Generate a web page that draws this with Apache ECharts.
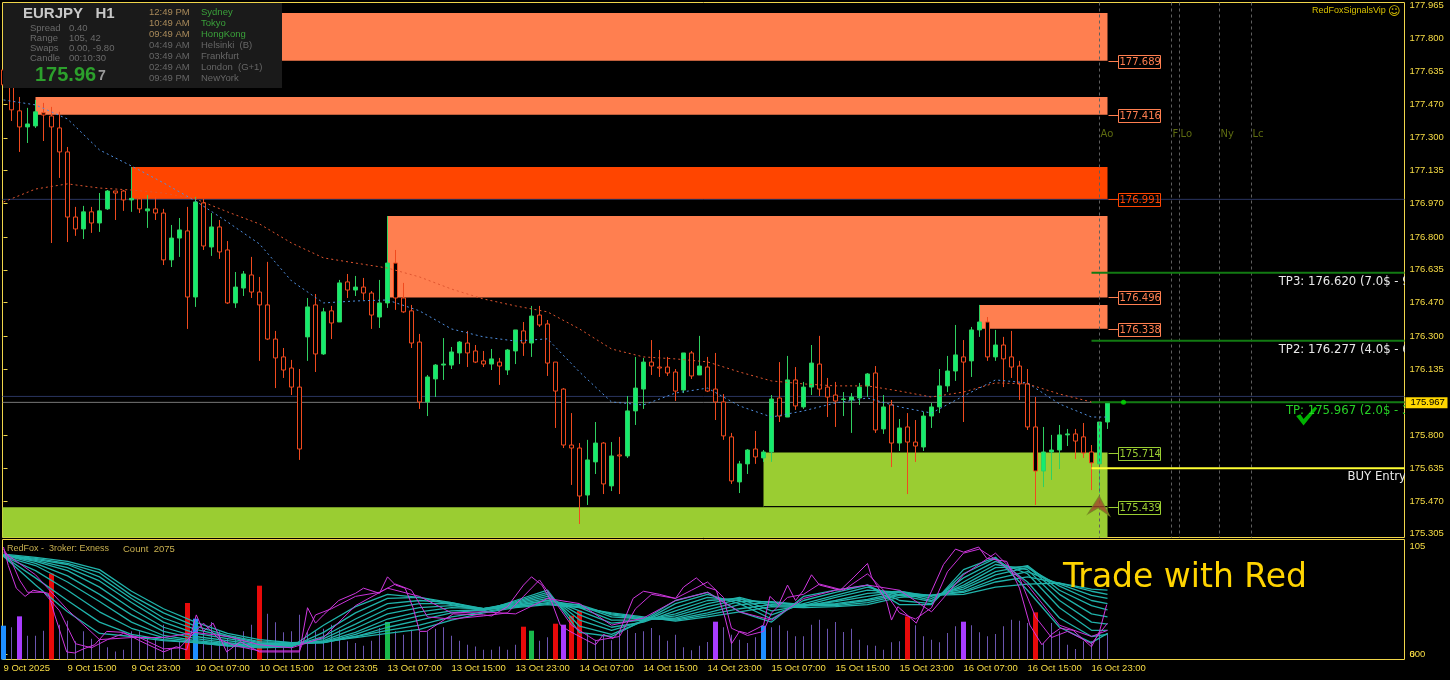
<!DOCTYPE html>
<html><head><meta charset="utf-8">
<style>html,body{margin:0;padding:0;background:#000}#c{width:1450px;height:680px}</style>
<script src="https://cdn.jsdelivr.net/npm/echarts@6/dist/echarts.min.js"></script>
</head><body><div id="c"></div>
<script>
const opens=[177.642,177.567,177.436,177.355,177.360,177.426,177.410,177.350,177.229,176.901,176.841,176.927,176.871,176.942,177.032,177.032,176.987,176.992,176.932,176.942,176.921,176.685,176.795,176.831,176.498,176.972,176.750,176.851,176.735,176.468,176.543,176.609,176.523,176.458,176.286,176.196,176.140,176.044,176.297,176.458,176.211,176.428,176.372,176.574,176.533,176.548,176.518,176.397,176.468,176.669,176.493,176.428,176.271,175.969,176.085,176.155,176.155,176.216,176.266,176.226,176.176,176.160,176.170,176.130,176.226,176.327,176.266,176.407,176.362,176.170,176.034,175.752,175.737,175.500,175.667,175.762,175.546,175.702,175.697,175.924,176.034,176.170,176.145,176.145,176.120,176.029,176.216,176.105,176.145,176.034,175.969,175.793,175.566,175.657,175.732,175.687,175.717,175.989,175.893,176.080,175.944,176.044,176.160,176.044,176.004,175.982,175.979,175.989,176.050,176.115,175.833,175.954,175.762,175.843,175.767,175.742,175.898,175.944,176.050,176.125,176.196,176.176,176.332,176.372,176.196,176.256,176.196,176.150,176.060,175.843,175.621,175.717,175.727,175.803,175.808,175.793,175.717,175.657,175.868];
const closes=[177.567,177.441,177.355,177.370,177.431,177.415,177.355,177.229,176.901,176.841,176.927,176.871,176.932,177.032,177.022,176.987,176.995,176.942,176.942,176.921,176.685,176.795,176.836,176.498,176.977,176.755,176.851,176.725,176.468,176.548,176.614,176.523,176.458,176.286,176.191,176.130,176.044,175.732,176.448,176.211,176.423,176.367,176.569,176.533,176.548,176.518,176.407,176.468,176.669,176.493,176.423,176.266,175.969,176.095,176.155,176.160,176.221,176.271,176.216,176.170,176.160,176.186,176.150,176.231,176.332,176.266,176.402,176.357,176.165,176.024,175.752,175.737,175.495,175.677,175.762,175.556,175.697,175.697,175.924,176.039,176.170,176.150,176.140,176.115,176.024,176.216,176.100,176.150,176.024,175.969,175.798,175.571,175.657,175.727,175.692,175.717,175.984,175.898,176.080,175.949,176.044,176.165,176.034,175.994,175.974,175.984,175.994,176.044,176.110,175.828,175.944,175.762,175.838,175.767,175.747,175.898,175.944,176.050,176.125,176.206,176.170,176.332,176.372,176.196,176.256,176.186,176.145,176.060,175.843,175.621,175.717,175.727,175.803,175.808,175.772,175.712,175.662,175.868,175.967];
const lows=[177.551,177.385,177.229,177.274,177.350,177.284,176.770,177.098,176.775,176.806,176.790,176.821,176.826,176.937,176.886,176.932,176.927,176.921,176.846,176.886,176.659,176.649,176.700,176.337,176.448,176.735,176.705,176.690,176.463,176.443,176.503,176.493,176.176,176.281,176.039,176.090,176.004,175.677,176.176,176.120,176.206,176.286,176.372,176.493,176.503,176.483,176.337,176.342,176.443,176.433,176.418,176.241,175.934,175.898,175.994,176.080,176.135,176.160,176.145,176.165,176.145,176.130,176.055,176.105,176.160,176.201,176.196,176.347,176.100,175.838,175.737,175.551,175.354,175.450,175.606,175.505,175.520,175.505,175.687,175.853,175.934,176.105,176.095,176.100,175.974,176.014,176.085,176.105,176.019,175.878,175.778,175.556,175.510,175.606,175.657,175.667,175.667,175.868,175.893,175.929,175.934,176.004,175.999,175.893,175.843,175.898,175.813,175.954,175.994,175.813,175.808,175.641,175.722,175.505,175.667,175.722,175.838,175.913,176.019,176.075,175.868,176.095,176.297,176.176,176.176,176.044,176.090,175.979,175.828,175.450,175.540,175.576,175.631,175.747,175.682,175.687,175.525,175.510,175.833];
const highs=[177.693,177.592,177.506,177.451,177.491,177.476,177.456,177.431,177.254,176.952,176.957,176.952,177.022,177.037,177.032,177.037,177.153,176.997,177.012,177.002,176.942,176.861,176.896,176.952,177.002,176.992,176.921,176.886,176.780,176.624,176.629,176.700,176.599,176.675,176.327,176.241,176.181,176.135,176.493,176.513,176.443,176.453,176.584,176.614,176.604,176.594,176.528,176.584,176.906,176.735,176.569,176.458,176.312,176.105,176.160,176.291,176.246,176.276,176.327,176.256,176.226,176.236,176.191,176.236,176.332,176.372,176.453,176.453,176.382,176.170,176.039,175.913,175.762,175.778,175.868,175.767,175.767,175.793,175.999,176.196,176.191,176.281,176.231,176.196,176.135,176.216,176.226,176.302,176.196,176.216,176.009,175.813,175.672,175.732,175.823,175.727,176.004,176.170,176.201,176.145,176.070,176.256,176.302,176.090,176.070,176.019,176.014,176.065,176.115,176.150,176.004,175.979,175.883,175.913,175.878,175.919,175.964,176.135,176.201,176.357,176.281,176.347,176.458,176.397,176.332,176.297,176.327,176.176,176.135,175.994,175.843,175.803,175.853,175.833,175.833,175.863,175.752,175.868,175.967];
const volumes=[1166,1133,1353,966,966,1066,2207,1186,1266,853,1053,906,886,733,652,686,1053,1053,919,919,1186,719,853,1620,1306,1053,1240,1053,919,953,1053,1186,1966,1406,1233,1033,1053,1386,1053,1053,1106,1186,1086,853,819,766,866,1119,1240,1053,986,1086,1040,1053,1106,1133,966,866,786,752,686,686,752,686,786,1146,1066,866,933,1206,1186,1366,1466,1019,886,986,873,1019,1086,1019,1053,1119,973,866,986,733,673,766,839,1246,1133,986,886,819,933,1166,1133,1173,1066,953,953,1186,1286,1106,1240,1040,1106,886,773,766,686,833,853,1353,1173,953,886,833,1019,1153,1246,1173,1033,953,999,1153,1286,1266,1220,1433,819,1220,1053,786,699,853,853,1066,1019];
const blueBars=[0,24,95], purpleBars=[2,70,89,120], redBars=[6,23,32,65,69,71,72,113,129], greenBars=[48,66];

const maIdx=[0,4,8,12,16,20,24,28,32,36,40,44,48,52,56,60,64,68,72,76,80,84,88,92,96,100,104,108,112,116,120,124,128,132,136,138];
const maBlue=[177.491,177.466,177.395,177.239,177.158,177.073,176.982,176.876,176.765,176.579,176.468,176.478,176.483,176.428,176.337,176.297,176.276,176.287,176.120,175.969,175.954,176.014,176.039,175.949,175.893,175.924,175.964,175.989,175.944,175.913,175.999,176.080,176.065,175.959,175.893,175.893];
const maRed=[176.977,177.042,177.068,177.047,177.037,177.022,176.992,176.927,176.866,176.770,176.695,176.669,176.644,176.599,176.538,176.488,176.453,176.423,176.337,176.236,176.196,176.186,176.171,176.120,176.075,176.060,176.050,176.050,176.024,175.994,176.019,176.065,176.060,176.009,175.969];

const teal1=[95,67,41,20,17,13,11,8,6,7,28,46,58,55,48,42,52,62,21,17,33,52,60,41,31,56,62,67,48,48,82,94,62,26,11,20];
const teal2=[95,74,52,31,19,14,11,8,7,7,21,40,54,55,50,43,51,60,27,19,32,49,58,49,34,52,60,67,52,49,78,93,70,35,17,19];
const teal3=[95,81,62,41,25,16,12,9,7,8,17,34,49,52,50,44,50,58,33,23,32,45,55,52,38,49,57,65,57,51,74,90,78,45,23,23];
const teal4=[95,86,70,51,31,18,13,10,8,8,15,29,44,49,49,44,49,56,38,26,31,42,52,54,42,47,55,62,60,52,70,87,82,52,31,29];
const teal5=[96,88,76,58,38,22,15,11,8,9,13,25,39,45,47,44,48,54,42,30,33,39,49,55,47,46,52,59,61,54,67,84,85,58,39,36];
const teal6=[96,90,81,65,44,26,17,13,9,9,12,21,34,41,45,44,47,52,45,33,33,37,46,53,50,47,51,56,61,56,65,80,86,62,47,43];
const teal7=[96,91,84,71,50,31,20,15,10,10,11,19,30,37,42,43,47,52,47,36,34,35,43,51,51,48,49,53,60,57,63,77,84,66,52,49];
const teal8=[96,92,87,75,54,35,24,17,11,10,11,17,26,33,40,43,46,50,48,38,34,34,40,48,50,48,48,52,58,57,61,73,80,68,57,54];
const teal9=[96,93,88,79,57,40,27,18,12,11,11,17,23,28,36,41,46,49,46,39,35,33,38,44,48,47,47,50,57,57,60,70,75,69,61,58];
const teal10=[97,94,90,82,61,44,31,20,14,11,12,16,20,24,33,40,45,48,45,40,36,32,36,41,46,45,46,48,55,57,58,65,68,69,63,62];
const magenta3=[99,77,43,14,16,16,21,17,9,6,16,47,64,56,40,41,39,54,49,28,35,52,60,41,33,54,62,67,62,41,77,98,67,28,17,23];
const magentaFastIdx=[0,0.6,1.6,2.7,3.7,5.6,6.4,7.9,8.9,10,11.4,12.9,15,17,20,21.6,22.9,24.1,25,26.2,27.9,29.6,32,37,38,39,40,41.9,44,45,47,48,49,50.2,51.2,52,52.9,56.2,60,61,63,65,66,67.3,68.5,69.6,70.8,72.5,74,75,76.2,77,78.7,80,82,84,85,86.6,87.9,89.1,90.2,91,92,93,95,95.8,96.9,98,99,100,101,102,104.6,106.2,108,108.5,110.4,111,111.8,113.1,114.1,116,117.5,119,120,121.9,122.9,125.4,127,128.3,129.8,131,132.1,133.7,136,137,137.9];
const magentaFast=[104,86,64,56,62,59,38,2,1,5,9,22,21,13,2,7,4,38,22,30,2,12,2,2,45,30,38,52,59,64,59,75,67,64,45,22,22,39,38,37,46,67,75,67,51,28,22,15,9,19,15,22,54,61,58,54,65,74,65,62,35,10,22,20,28,56,48,67,52,62,77,67,62,74,88,75,51,33,46,37,30,61,87,102,99,104,93,90,64,28,9,19,25,23,7,22,48];
const magentaMidIdx=[0,1,2,3,5,7,9,11,13,15,17,20,22,24,25,27,29,32,37,38,39,41,44,47,49,51,53,56,60,63,65,67,69,71,74,77,79,81,84,86,88,90,91,93,95,96,98,100,102,105,108,110,112,114,116,118,120,122,124,127,129,131,133,136,138];
const magentaMid=[102,90,72,60,60,42,10,6,14,20,16,5,6,22,30,14,8,3,3,22,38,44,56,60,68,62,36,34,37,40,56,72,50,28,13,17,44,58,54,62,70,55,25,18,22,40,55,58,68,62,78,62,40,34,45,80,98,102,92,74,36,16,22,10,30];

const priceTicks=[177.965,177.8,177.635,177.47,177.3,177.135,176.97,176.8,176.635,176.47,176.3,176.135,175.8,175.635,175.47,175.305];
const timeTickIdx=[0,8,16,24,32,40,48,56,64,72,80,88,96,104,112,120,128,136];
const timeTickLabels=['9 Oct 2025','9 Oct 15:00','9 Oct 23:00','10 Oct 07:00','10 Oct 15:00','12 Oct 23:05','13 Oct 07:00','13 Oct 15:00','13 Oct 23:00','14 Oct 07:00','14 Oct 15:00','14 Oct 23:00','15 Oct 07:00','15 Oct 15:00','15 Oct 23:00','16 Oct 07:00','16 Oct 15:00','16 Oct 23:00'];

const XMIN=-0.125, XMAX=175.125, GOLD='#f0d54a', TXT='#f7dc45', CORAL='#ff7f50', ORED='#ff4500', YG='#9acd32';
const zoneStart=[10,4,16,48,122,95,XMIN];
const zoneTop=[177.929,177.506,177.153,176.906,176.458,175.714,175.439];
const zoneBottom=[177.689,177.416,176.991,176.496,176.338,175.439,175.2];
const zoneColor=[CORAL,CORAL,ORED,CORAL,CORAL,YG,YG];
const tagPrice=[177.689,177.416,176.991,176.496,176.338,175.714,175.439];
const tagColor=[CORAL,CORAL,ORED,CORAL,CORAL,YG,YG];
const sessionIdx=[137,146,147,152,156];
const sessionName=['Ao','F','Lo','Ny','Lc'];
const levelPrice=[176.99,175.997,175.967,175.442,176.62,176.277,175.967,175.635];
const levelFrom=[XMIN,XMIN,XMIN,95,136,136,136,136];
const levelTo=[XMAX,XMAX,XMAX,138,XMAX,XMAX,XMAX,XMAX];
const levelColor=['#2a3560','#2a3560','#777777','#000000','#127a12','#127a12','#127a12','#ffff33'];
const levelWidth=[1,1,1,1,2,2,2,2];
const noteIdx=[159.4,159.4,160.3,168];
const notePrice=[176.574,176.231,175.923,175.591];
const noteText=['TP3: 176.620 (7.0$ - 9','TP2: 176.277 (4.0$ - 6','TP: 175.967 (2.0$ - 3','BUY Entry'];
const noteColor=['#e8e8e8','#e8e8e8','#26d026','#e8e8e8'];

const F='"Liberation Sans",Arial,sans-serif', D='"DejaVu Sans",sans-serif';
const chart=echarts.init(document.getElementById('c'),null,{renderer:'canvas'});
const candles=opens.map((o,i)=>[i,o,closes[i],lows[i],highs[i]]);
const flagged={};
[[blueBars,'#1e8fff'],[purpleBars,'#a93cff'],[redBars,'#e80a0a'],[greenBars,'#18b94a']].forEach(([a,c])=>a.forEach(i=>flagged[i]=c));
const thin=[],thick=[];
volumes.forEach((v,i)=>{ if(flagged[i]) thick.push({value:[i,v],itemStyle:{color:flagged[i]}}); else thin.push([i,v]); });
const zip=a=>a.map((v,i)=>[maIdx[i],v]);
const oscLine=(d,c,w)=>({type:'line',xAxisIndex:1,yAxisIndex:1,data:d,showSymbol:false,silent:true,z:5,lineStyle:{color:c,width:w}});

const series=[
 {type:'custom',xAxisIndex:0,yAxisIndex:0,clip:true,z:1,silent:true,
  data:zoneStart.map((s,i)=>[s,138,zoneTop[i],zoneBottom[i]]),encode:{x:[0,1],y:[2,3]},
  renderItem:(p,api)=>{const a=api.coord([api.value(0),api.value(2)]),b=api.coord([api.value(1),api.value(3)]);
   return {type:'rect',shape:{x:a[0],y:a[1],width:b[0]-a[0],height:b[1]-a[1]},style:{fill:zoneColor[p.dataIndex]}};}},
 ...levelPrice.map((p,i)=>({type:'line',xAxisIndex:0,yAxisIndex:0,silent:true,showSymbol:false,z:i>=4?6:2,
   data:[[levelFrom[i],p],[levelTo[i],p]],lineStyle:{color:levelColor[i],width:levelWidth[i]}})),
 ...sessionIdx.map(x=>({type:'line',xAxisIndex:0,yAxisIndex:0,silent:true,showSymbol:false,z:4,
   data:[[x,177.982],[x,175.286]],lineStyle:{color:'#5e5e5e',width:1,type:[3,3]}})),
 {type:'candlestick',name:'EURJPY',xAxisIndex:0,yAxisIndex:0,data:candles,encode:{x:0,y:[1,2,3,4]},barWidth:4,z:3,silent:true,
  itemStyle:{color:'#14ec6e',color0:'#000000',borderColor:'#2fd060',borderColor0:'#f04a1e',borderColorDoji:'#2fd060',borderWidth:1}},
 {type:'line',xAxisIndex:0,yAxisIndex:0,data:maIdx.map((x,i)=>[x,maBlue[i]]),showSymbol:false,silent:true,z:4,lineStyle:{color:'#4f8fe0',width:1,type:[2,3]}},
 {type:'line',xAxisIndex:0,yAxisIndex:0,data:maRed.map((v,i)=>[maIdx[i],v]),showSymbol:false,silent:true,z:4,lineStyle:{color:'#e0552f',width:1,type:[2,3]}},
 {type:'scatter',xAxisIndex:0,yAxisIndex:0,data:[[140,175.967]],symbolSize:5,silent:true,z:7,itemStyle:{color:'#00e000'}},
 {type:'scatter',xAxisIndex:0,yAxisIndex:0,data:[[136.9,175.445]],symbol:'path://M11 0L0 18L10 12L21 20L11 0Z',symbolSize:[22,20],silent:true,z:7,itemStyle:{color:'#a0462d',borderColor:'#6f8a20',borderWidth:1}},
 {type:'scatter',xAxisIndex:0,yAxisIndex:0,data:[[162.9,175.898]],symbol:'path://M0 10L4 8L7 13L18 0L20 2L7 20Z',symbolSize:[21,19],silent:true,z:7,itemStyle:{color:'#00e000'}},
 {type:'custom',xAxisIndex:0,yAxisIndex:0,clip:true,z:8,silent:true,data:notePrice.map((p,i)=>[noteIdx[i],p]),encode:{x:0,y:1},
  renderItem:(p,api)=>{const c=api.coord([api.value(0),api.value(1)]);
   return {type:'text',x:c[0],y:c[1],style:{text:noteText[p.dataIndex],fill:noteColor[p.dataIndex],font:'11.7px '+D,textAlign:'left',textVerticalAlign:'middle'}};}},
 {type:'custom',xAxisIndex:0,yAxisIndex:0,z:8,silent:true,data:sessionIdx.map(x=>[x,177.315]),encode:{x:0,y:1},
  renderItem:(p,api)=>{const c=api.coord([api.value(0),api.value(1)]);
   return {type:'text',x:c[0]+1,y:c[1],style:{text:sessionName[p.dataIndex],fill:'#5d6b10',font:'10px '+D,textAlign:'left',textVerticalAlign:'middle'}};}},
 {type:'custom',xAxisIndex:0,yAxisIndex:0,z:8,silent:true,data:tagPrice.map(p=>[138,p]),encode:{x:0,y:1},
  renderItem:(p,api)=>{const c=api.coord([api.value(0),api.value(1)]),col=tagColor[p.dataIndex],y=Math.round(c[1])+.5;
   return {type:'group',children:[
    {type:'line',shape:{x1:c[0]+1,y1:y,x2:c[0]+11,y2:y},style:{stroke:col,lineWidth:1}},
    {type:'rect',shape:{x:Math.round(c[0])+10.5,y:y-6,width:42,height:13},style:{fill:'rgba(0,0,0,0)',stroke:col,lineWidth:1}},
    {type:'text',x:c[0]+12,y:y+0.5,style:{text:tagPrice[p.dataIndex].toFixed(3),fill:col,font:'10px '+D,textAlign:'left',textVerticalAlign:'middle'}}]};}},
 {type:'custom',xAxisIndex:0,yAxisIndex:0,clip:false,z:9,silent:true,data:[[XMAX,175.967]],encode:{x:0,y:1},
  renderItem:(p,api)=>{const c=api.coord([api.value(0),api.value(1)]);
   return {type:'group',children:[
    {type:'rect',shape:{x:c[0]+1,y:c[1]-5,width:42,height:11},style:{fill:'#ffd700'}},
    {type:'text',x:c[0]+6,y:c[1]+0.5,style:{text:'175.967',fill:'#000',font:'9.5px '+F,textAlign:'left',textVerticalAlign:'middle'}}]};}},
 {type:'bar',xAxisIndex:1,yAxisIndex:2,data:thin,barWidth:1,silent:true,z:2,itemStyle:{color:'#6a55b0'}},
 {type:'bar',xAxisIndex:2,yAxisIndex:2,data:thick,barWidth:5,silent:true,z:3},
 ...[teal1,teal2,teal3,teal4,teal5,teal6,teal7,teal8,teal9,teal10].map(a=>oscLine(zip(a),'#20b2aa',1.3)),
 oscLine(zip(magenta3),'#c832d8',1),
 oscLine(magentaMid.map((v,i)=>[magentaMidIdx[i],v]),'#c832d8',1),
 oscLine(magentaFast.map((v,i)=>[magentaFastIdx[i],v]),'#d038e0',1)
];

const pTxt=(x,y,text,fill,font)=>({type:'text',x,y,z:101,silent:true,style:{text,fill,font,textVerticalAlign:'middle'}});
const sess=[['12:49 PM','Sydney'],['10:49 AM','Tokyo'],['09:49 AM','HongKong'],['04:49 AM','Helsinki  (B)'],['03:49 AM','Frankfurt'],['02:49 AM','London  (G+1)'],['09:49 PM','NewYork']];
const stats=[['Spread','0.40'],['Range','105, 42'],['Swaps','0.00, -9.80'],['Candle','00:10:30']];
const graphics=[
 {type:'rect',shape:{x:3,y:3,width:279,height:85},z:100,silent:true,style:{fill:'#1a1a1a'}},
 pTxt(23,14,'EURJPY   H1','#c8c8c8','bold 15px '+F),
 ...stats.flatMap((r,i)=>[pTxt(30,28+i*10,r[0],'#6a6a6a','9.5px '+F),pTxt(69,28+i*10,r[1],'#6a6a6a','9.5px '+F)]),
 pTxt(35,75,'175.96','#2ca02c','bold 20px '+F),
 pTxt(98,76,'7','#9a9a9a','bold 14px '+F),
 ...sess.flatMap((r,i)=>[pTxt(149,12+i*11,r[0],i<3?'#a98a5a':'#666666','9.5px '+F),pTxt(201,12+i*11,r[1],i<3?'#3aa03a':'#666666','9.5px '+F)]),
 pTxt(1312,11,'RedFoxSignalsVip','#d8c000','9px '+F),
 pTxt(1388,12,'☺','#d8c000','12px '+D),
 pTxt(7,549,'RedFox -  3roker: Exness','#c8b050','9px '+F),
 pTxt(123,549,'Count  2075','#c8b050','9.5px '+F),
 pTxt(1063,578,'Trade with Red','#ffd400','33px '+D)
];

chart.setOption({
 animation:false,backgroundColor:'#000',
 grid:[{left:2.5,top:2.5,width:1402,height:535,show:true,backgroundColor:'#000',borderColor:GOLD,borderWidth:1},
       {left:2.5,top:539.5,width:1402,height:120,show:true,backgroundColor:'#000',borderColor:GOLD,borderWidth:1}],
 xAxis:[
  {type:'value',gridIndex:0,min:XMIN,max:XMAX,show:false,splitLine:{show:false}},
  {type:'value',gridIndex:1,min:XMIN,max:XMAX,splitLine:{show:false},axisLine:{show:false},
   axisTick:{show:true,length:4,customValues:timeTickIdx,lineStyle:{color:GOLD}},
   axisLabel:{show:true,customValues:timeTickIdx,align:'left',margin:4,color:TXT,fontFamily:F,fontSize:9.5,hideOverlap:false,
     formatter:v=>timeTickLabels[timeTickIdx.indexOf(v)]||''}},
  {type:'value',gridIndex:1,min:XMIN,max:XMAX,show:false,splitLine:{show:false}}
 ],
 yAxis:[
  {type:'value',gridIndex:0,position:'right',min:175.286,max:177.982,splitLine:{show:false},axisLine:{show:false},
   axisTick:{show:true,length:4,customValues:priceTicks,lineStyle:{color:GOLD}},
   axisLabel:{customValues:priceTicks,margin:5,color:TXT,fontFamily:F,fontSize:9.5,align:'left',padding:[2,0,0,0],formatter:v=>v.toFixed(3)}},
  {type:'value',gridIndex:1,position:'right',min:-5.35,max:111.3,splitLine:{show:false},axisLine:{show:false},
   axisTick:{show:true,length:4,customValues:[0],lineStyle:{color:GOLD}},
   axisLabel:{customValues:[0,105],margin:5,color:TXT,fontFamily:F,fontSize:9.5,align:'left',formatter:v=>String(v)}},
  {type:'value',gridIndex:1,position:'right',min:490,max:2890,splitLine:{show:false},axisLine:{show:false},axisTick:{show:false},
   axisLabel:{customValues:[600],margin:5,color:TXT,fontFamily:F,fontSize:9.5,align:'left',formatter:v=>String(v)}}
 ],
 series,graphic:{elements:graphics}
});
</script></body></html>
